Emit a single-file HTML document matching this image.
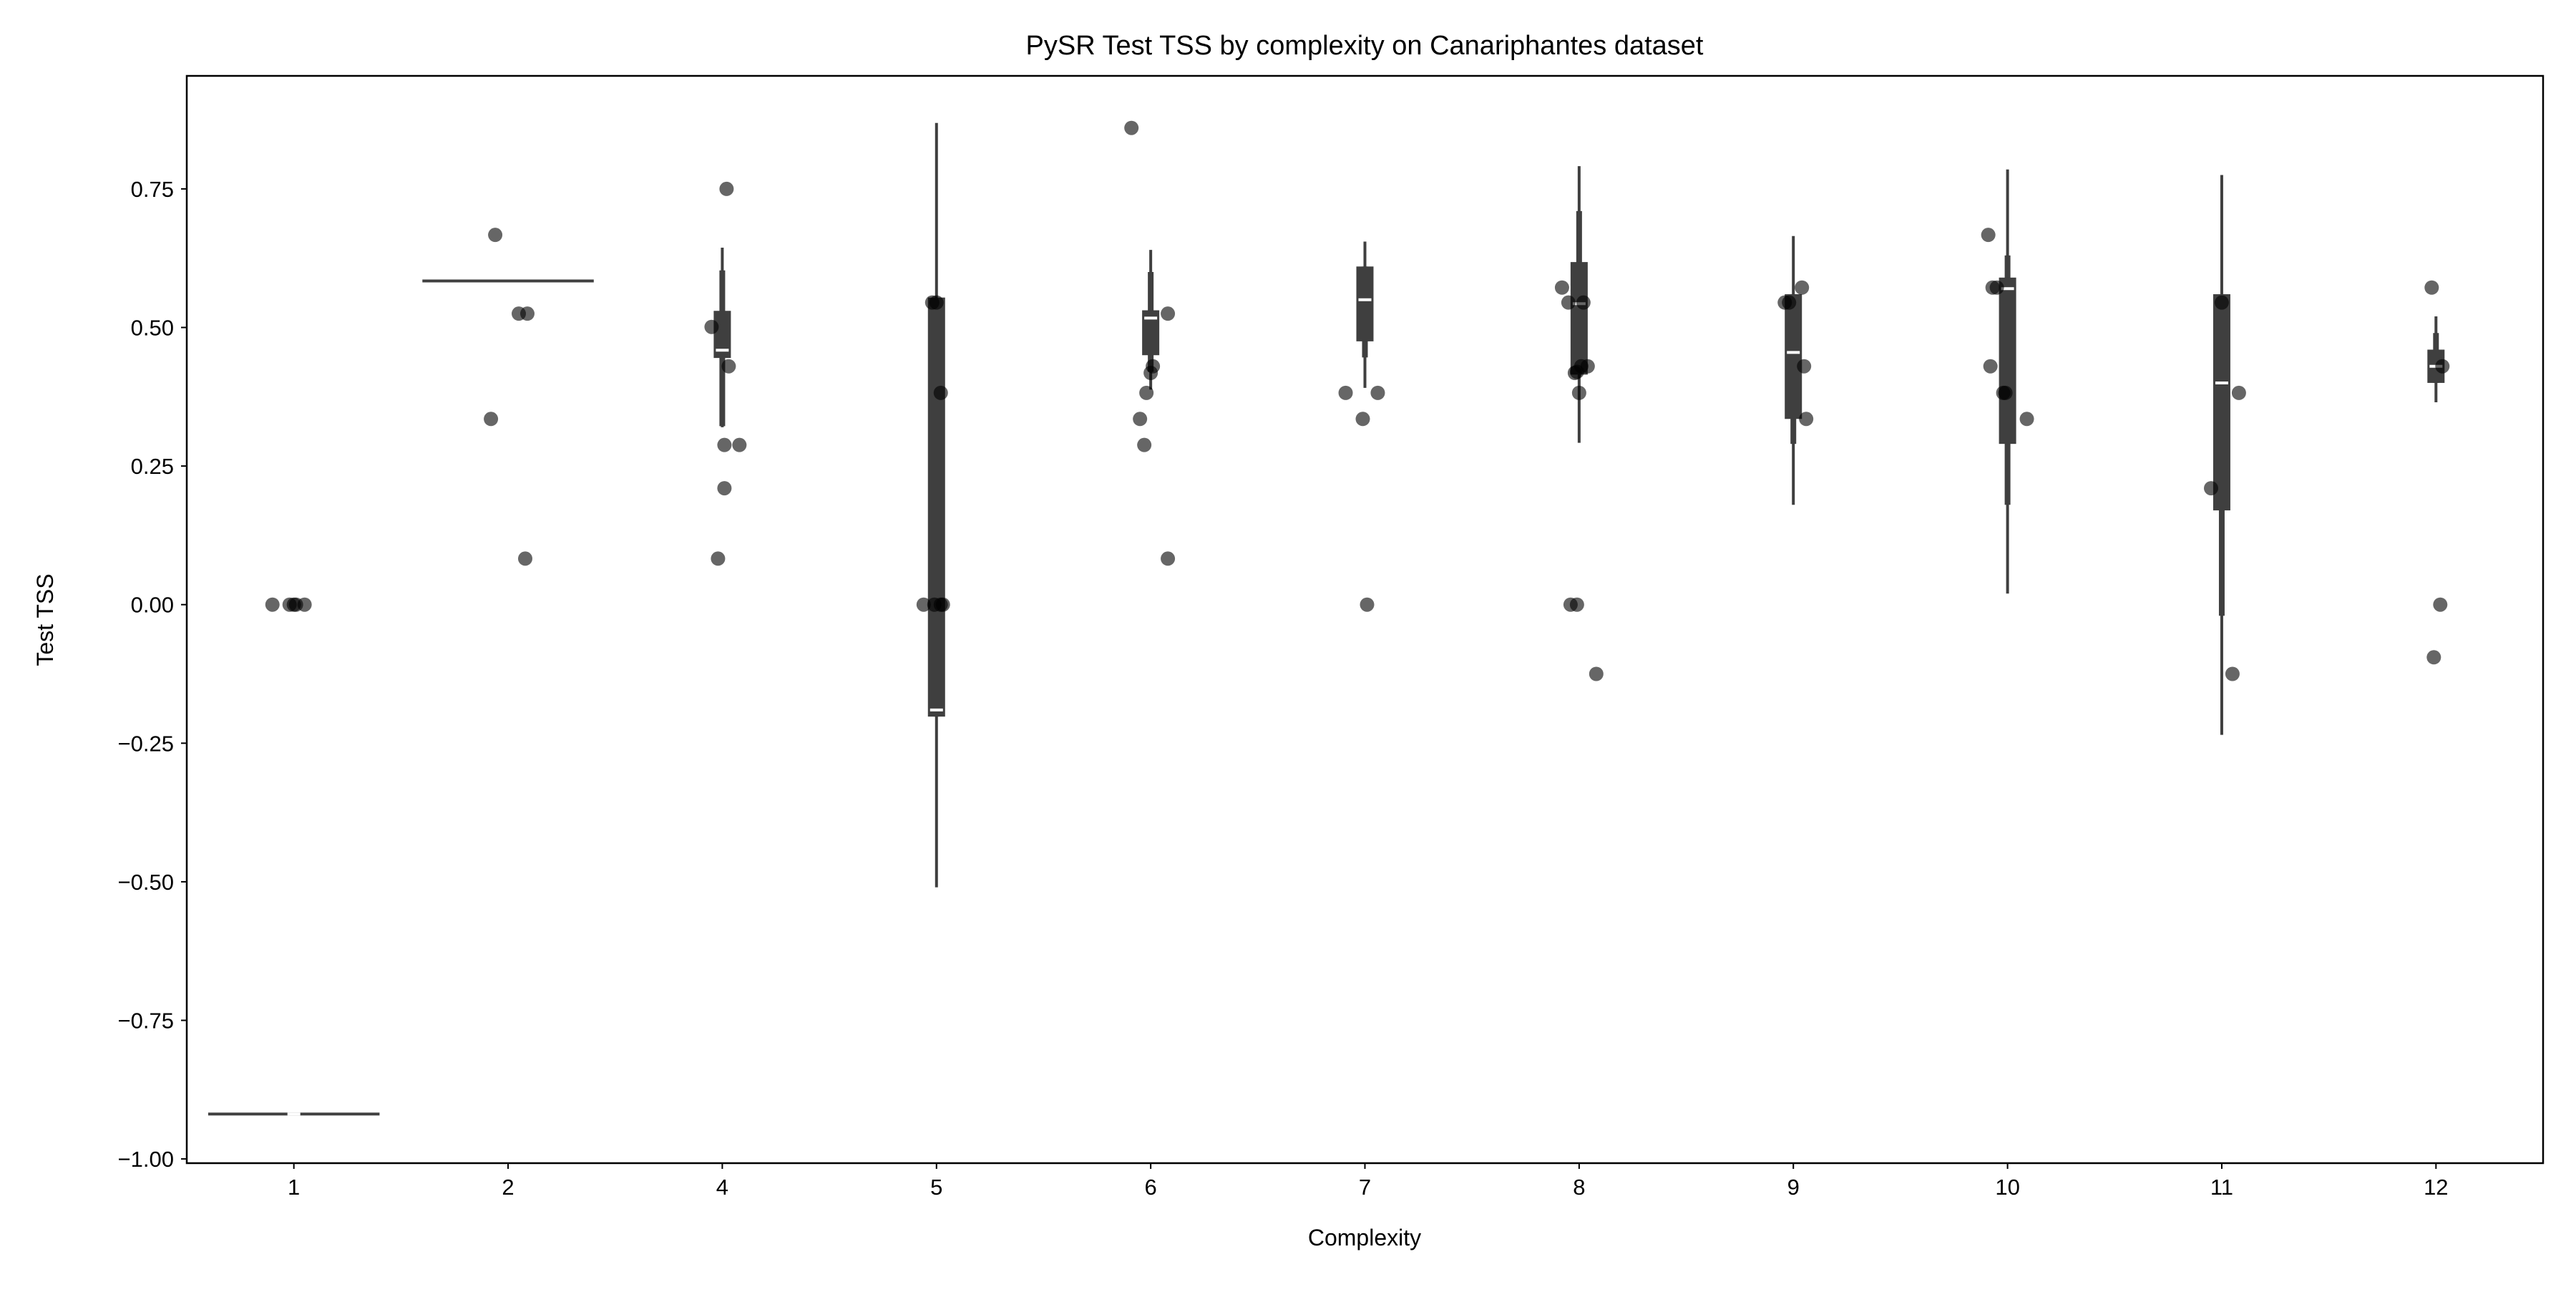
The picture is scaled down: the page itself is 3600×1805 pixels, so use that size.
<!DOCTYPE html>
<html><head><meta charset="utf-8"><style>
html,body{margin:0;padding:0;background:#fff;}
svg text{font-family:"Liberation Sans",sans-serif;fill:#000;}
</style></head><body>
<svg id="chart" width="3600" height="1800" viewBox="0 0 3600 1800" xmlns="http://www.w3.org/2000/svg">
<rect x="0" y="0" width="3600" height="1800" fill="#fff"/>
<text x="1907" y="76" font-size="38" text-anchor="middle">PySR Test TSS by complexity on Canariphantes dataset</text>
<text x="1907" y="1740" font-size="32" text-anchor="middle">Complexity</text>
<text x="0" y="0" font-size="32" text-anchor="middle" transform="translate(74,866) rotate(-90)">Test TSS</text>
<g id="marks"></g>
<g id="axes"></g>
</svg>
<script>
const categories = ["1","2","4","5","6","7","8","9","10","11","12"];
const lineValues = [-0.919, 0.584, null, null, null, null, null, null, null, null, null];
const whiskerHigh = [null, null, 0.644, 0.869, 0.640, 0.655, 0.791, 0.665, 0.785, 0.775, 0.52];
const whiskerLow  = [null, null, 0.320, -0.510, 0.388, 0.391, 0.292, 0.18, 0.02, -0.235, 0.365];
const innerHigh   = [null, null, 0.603, 0.554, 0.600, 0.610, 0.710, 0.56, 0.63, 0.56, 0.49];
const innerLow    = [null, null, 0.322, -0.202, 0.420, 0.446, 0.420, 0.29, 0.18, -0.02, 0.40];
const q3Values    = [null, null, 0.530, 0.554, 0.531, 0.610, 0.618, 0.560, 0.590, 0.560, 0.460];
const q1Values    = [null, null, 0.445, -0.202, 0.450, 0.475, 0.415, 0.335, 0.290, 0.170, 0.400];
const medians     = [-0.919, null, 0.459, -0.190, 0.517, 0.550, 0.543, 0.455, 0.570, 0.400, 0.430];
const pointValues = [
  [0,0,0,0,0],
  [0.667,0.525,0.525,0.335,0.083],
  [0.501,0.750,0.430,0.288,0.288,0.210,0.083],
  [0.545,0.545,0.382,0,0,0,0],
  [0.860,0.525,0.430,0.418,0.382,0.335,0.288,0.083],
  [0.382,0.382,0.335,0],
  [0.572,0.545,0.545,0.418,0.430,0.430,0.382,0,0,-0.125,0.420],
  [0.545,0.572,0.430,0.335,0.545],
  [0.667,0.572,0.572,0.430,0.382,0.382,0.335],
  [0.545,0.210,0.382,-0.125],
  [0.572,0.430,0,-0.095]
];
const pointJitter = [
  [-0.10,-0.02,0.0,0.01,0.05],
  [-0.06,0.05,0.09,-0.08,0.08],
  [-0.05,0.02,0.03,0.01,0.08,0.01,-0.02],
  [-0.02,0.0,0.02,-0.06,-0.01,0.02,0.03],
  [-0.09,0.08,0.01,0.0,-0.02,-0.05,-0.03,0.08],
  [-0.09,0.06,-0.01,0.01],
  [-0.08,-0.05,0.02,-0.02,0.01,0.04,0.0,-0.04,-0.01,0.08,-0.01],
  [-0.04,0.04,0.05,0.06,-0.02],
  [-0.09,-0.07,-0.05,-0.08,-0.02,-0.01,0.09],
  [0.0,-0.05,0.08,0.05],
  [-0.02,0.03,0.02,-0.01]
];
const yTicks = [-1.00,-0.75,-0.50,-0.25,0.00,0.25,0.50,0.75];
const yTickLabels = ["\u22121.00","\u22120.75","\u22120.50","\u22120.25","0.00","0.25","0.50","0.75"];

const L=261, R=3554, T=106, B=1625;
const step=(R-L)/categories.length;
function xPos(i){return L+(i+0.5)*step;}
function yPos(v){return 844.7 - v*774.4;}
const NS="http://www.w3.org/2000/svg";
const marks=document.getElementById('marks');
const axes=document.getElementById('axes');
function mk(tag,attrs,parent){const e=document.createElementNS(NS,tag);for(const k in attrs)e.setAttribute(k,attrs[k]);parent.appendChild(e);return e;}

categories.forEach((c,i)=>{
  const cx=xPos(i);
  const g=mk('g',{},marks);
  
  
  if(lineValues[i]!==null){
    const y=yPos(lineValues[i]);
    const ln=mk('line',{x1:cx-0.4*step,x2:cx+0.4*step,y1:y,y2:y,stroke:'#3f3f3f','stroke-width':4},g);
    
    
  }
  if(whiskerHigh[i]!==null){
    const w=mk('line',{x1:cx,x2:cx,y1:yPos(whiskerHigh[i]),y2:yPos(whiskerLow[i]),stroke:'#3f3f3f','stroke-width':4},g);
    
    
    const m=mk('line',{x1:cx,x2:cx,y1:yPos(innerHigh[i]),y2:yPos(innerLow[i]),stroke:'#3f3f3f','stroke-width':8},g);
    
    
    const y3=yPos(q3Values[i]), y1=yPos(q1Values[i]);
    const b=mk('rect',{x:cx-12,y:y3,width:24,height:y1-y3,fill:'#3f3f3f'},g);
    
    
  }
  if(medians[i]!==null){
    const ym=yPos(medians[i]);
    const md=mk('line',{x1:cx-9,x2:cx+9,y1:ym,y2:ym,stroke:'#fff','stroke-width':4},g);
    
    
  }
  pointValues[i].forEach((v,j)=>{
    const p=mk('circle',{cx:cx+pointJitter[i][j]*step,cy:yPos(v),r:10,fill:'#000','fill-opacity':0.6},g);
    
    
  });
});

const frame=mk('rect',{x:L,y:T,width:R-L,height:B-T,fill:'none',stroke:'#000','stroke-width':2.5},axes);


yTicks.forEach((v,k)=>{
  const y=yPos(v);
  const t=mk('line',{x1:L-8,x2:L,y1:y,y2:y,stroke:'#000','stroke-width':2},axes);
  
  
  const tx=mk('text',{x:L-18,y:y+11,'font-size':31,'text-anchor':'end'},axes);
  tx.textContent=yTickLabels[k];
  
  
});
categories.forEach((c,i)=>{
  const x=xPos(i);
  const t=mk('line',{x1:x,x2:x,y1:B,y2:B+8,stroke:'#000','stroke-width':2},axes);
  
  
  const tx=mk('text',{x:x,y:B+44,'font-size':31,'text-anchor':'middle'},axes);
  tx.textContent=c;
  
  
});
</script>
</body></html>
